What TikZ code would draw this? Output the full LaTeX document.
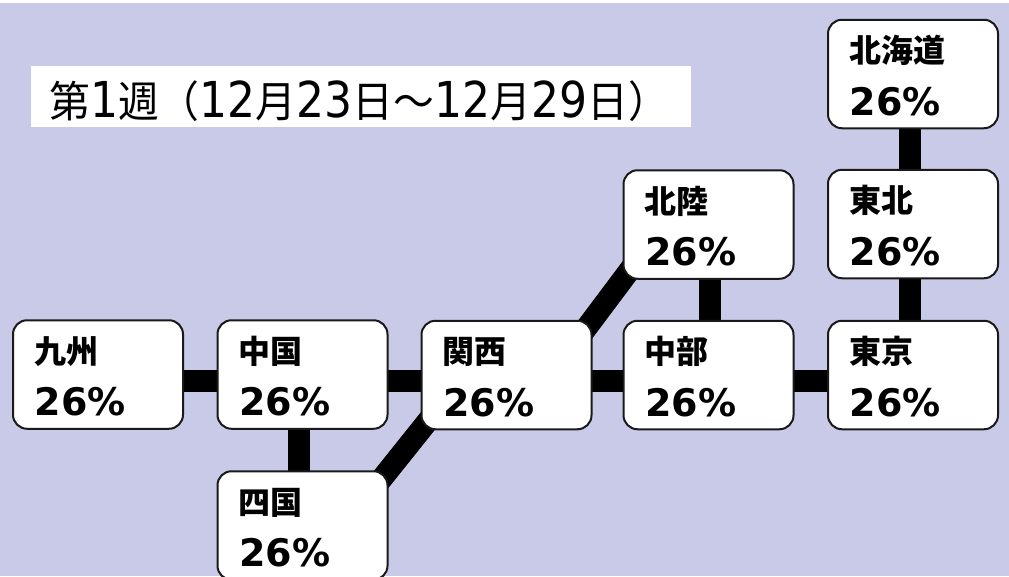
\documentclass[tikz,border=0pt]{standalone}
\usepackage{fontspec}
\setmainfont{DejaVu Sans}
\newfontfamily\cjkr[FakeStretch=0.95]{Noto Sans CJK JP}
\newfontfamily\cjkl{Noto Sans CJK JP}
\newfontfamily\dejavu{DejaVu Sans}
\newfontfamily\dejavun[FakeStretch=0.89]{DejaVu Sans}
\usetikzlibrary{backgrounds}
\definecolor{bgl}{RGB}{201,202,232}
\definecolor{edge}{RGB}{25,25,25}
\newcommand\tj[1]{{\fontsize{43pt}{50pt}\cjkr #1}}
\newcommand\td[1]{{\fontsize{49.5pt}{50pt}\dejavun #1}}
\tikzset{
  rbox/.style={draw=edge, line width=2pt, fill=white, rounded corners=14pt,
    minimum width=170pt, minimum height=108.5pt, inner sep=0pt},
  lab/.style={anchor=base west, inner sep=0pt, font=\fontsize{32pt}{36pt}\cjkl\bfseries},
  pct/.style={anchor=base west, inner sep=0pt, font=\fontsize{38pt}{40pt}\dejavu\bfseries},
  bar/.style={line width=22pt, black},
  dbar/.style={line width=22pt, black, shorten <=-25pt, shorten >=-25pt},
}
\newcommand\region[4]{%
  \node[rbox] (#1) at (#2,#3) {};
  \node[lab] (#1-l) at ([xshift=22pt,yshift=-44pt]#1.north west) {#4};
  \node[pct] (#1-p) at ([xshift=22.5pt,yshift=-96.5pt]#1.north west) {26\%};
}
\begin{document}
\begin{tikzpicture}[x=1pt,y=-1pt]
\useasboundingbox (0,0) rectangle (1009,576);
\clip (0,0) rectangle (1009,576);
\region{kyushu}{98}{374.5}{九州}
\region{chugoku}{302.5}{374.5}{中国}
\region{shikoku}{302.5}{525.5}{四国}
\region{kansai}{506.5}{375}{関西}
\region{chubu}{708.5}{375}{中部}
\region{hokuriku}{708.5}{224.5}{北陸}
\region{tokyo}{913}{375}{東京}
\region{tohoku}{913}{224}{東北}
\region{hokkaido}{913}{74}{北海道}
\node[fill=white, minimum width=660pt, minimum height=61pt, inner sep=0pt] (titlebox) at (361,96.5) {};
\node[anchor=base west, inner sep=0pt] (title) at (49,117)
  {\tj{第}\td{1}\tj{週（}\td{12}\tj{月}\td{23}\tj{日～}\td{12}\tj{月}\td{29}\tj{日）}};
\begin{scope}[on background layer]
  \fill[bgl] (0,0) rectangle (1009,576);
  \fill[white] (0,0) rectangle (1009,2.5);
  \draw[bar] ([yshift=-6.5pt]kyushu.center) -- ([yshift=-6.5pt]chugoku.center);
  \draw[bar] ([yshift=-6.5pt]chugoku.center) -- ([yshift=-6pt]kansai.center);
  \draw[bar] ([yshift=-6pt]kansai.center) -- ([yshift=-6pt]chubu.center);
  \draw[bar] ([yshift=-6pt]chubu.center) -- ([yshift=-6pt]tokyo.center);
  \draw[bar] ([xshift=-4pt]chugoku.center) -- ([xshift=-4pt]shikoku.center);
  \draw[bar] ([xshift=1pt]hokuriku.center) -- ([xshift=1pt]chubu.center);
  \draw[bar] ([xshift=-3pt]tohoku.center) -- ([xshift=-3pt]tokyo.center);
  \draw[bar] ([xshift=-3pt]hokkaido.center) -- ([xshift=-3pt]tohoku.center);
  \draw[dbar] (shikoku.north east) -- (kansai.south west);
  \draw[dbar] (kansai.north east) -- (hokuriku.south west);
\end{scope}
\end{tikzpicture}
\end{document}
